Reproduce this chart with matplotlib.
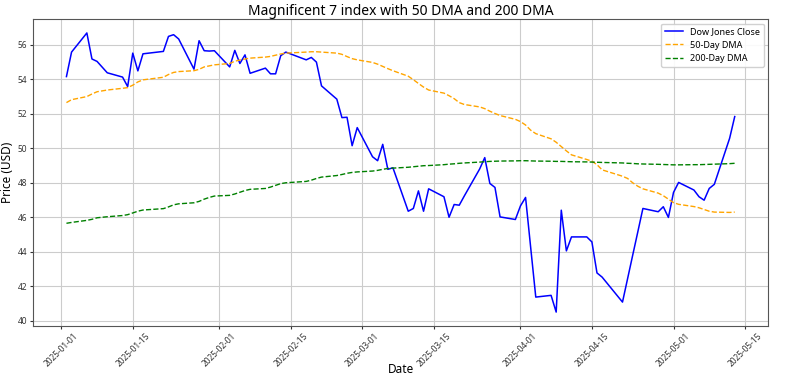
import pandas as pd
import matplotlib
matplotlib.use("Agg")
import matplotlib.pyplot as plt
import matplotlib.dates as mdates

# US trading days, Jan 2 - May 13 2025
holidays = ["2025-01-09", "2025-01-20", "2025-02-17", "2025-04-18"]
dates = pd.bdate_range("2025-01-02", "2025-05-13")
dates = dates[~dates.isin(pd.to_datetime(holidays))]

close = [
    # Jan
    54.16, 55.58, 56.69, 55.18, 55.04, 54.38, 54.13, 53.58, 55.52, 54.49,
    55.48, 55.62, 56.49, 56.59, 56.34, 54.59, 56.24, 55.66, 55.64, 55.66,
    # Feb
    54.72, 55.68, 54.92, 55.42, 54.35, 54.65, 54.32, 54.32, 55.37, 55.58,
    55.13, 55.27, 55.00, 53.62, 52.85, 51.78, 51.80, 50.15, 51.20,
    # Mar
    49.51, 49.28, 50.23, 48.78, 48.87, 46.35, 46.51, 47.53, 46.35, 47.65,
    47.19, 46.00, 46.74, 46.70, 47.24, 48.80, 49.46, 47.96, 47.73, 46.02, 45.87,
    # Apr
    46.66, 47.15, 44.25, 41.37, 41.47, 40.50, 46.41, 44.05, 44.86, 44.86,
    44.57, 42.77, 42.53, 41.08, 42.44, 43.80, 45.15, 46.51, 46.32, 46.61, 45.99,
    # May
    47.44, 48.02, 47.58, 47.19, 46.99, 47.67, 47.91, 50.58, 51.84,
]

dma50 = [
    52.65, 52.82, 53.00, 53.15, 53.28, 53.38, 53.48, 53.52, 53.66, 53.85,
    53.97, 54.12, 54.28, 54.40, 54.45, 54.50, 54.58, 54.72, 54.78, 54.84,
    54.92, 55.05, 55.12, 55.18, 55.23, 55.29, 55.33, 55.40, 55.47, 55.52,
    55.58, 55.60, 55.60, 55.58, 55.52, 55.45, 55.32, 55.20, 55.13,
    54.98, 54.88, 54.75, 54.62, 54.50, 54.18, 53.98, 53.76, 53.55, 53.38,
    53.20, 53.05, 52.88, 52.65, 52.54, 52.40, 52.30, 52.15, 52.02, 51.90, 51.68,
    51.55, 51.35, 51.05, 50.85, 50.55, 50.35, 50.10, 49.85, 49.62, 49.35,
    49.25, 49.05, 48.75, 48.38, 48.25, 48.00, 47.80, 47.65, 47.40, 47.25, 47.05,
    46.85, 46.75, 46.62, 46.55, 46.45, 46.35, 46.30, 46.28, 46.30,
]

dma200 = [
    45.65, 45.70, 45.82, 45.88, 45.97, 46.03, 46.10, 46.15, 46.25, 46.35,
    46.42, 46.50, 46.60, 46.72, 46.78, 46.84, 46.92, 47.05, 47.15, 47.23,
    47.27, 47.35, 47.45, 47.55, 47.62, 47.67, 47.75, 47.85, 47.95, 48.00,
    48.08, 48.15, 48.25, 48.33, 48.42, 48.48, 48.55, 48.60, 48.63,
    48.68, 48.72, 48.78, 48.83, 48.85, 48.90, 48.93, 48.96, 48.99, 49.00,
    49.05, 49.08, 49.10, 49.13, 49.15, 49.20, 49.22, 49.24, 49.25, 49.26, 49.27,
    49.28, 49.28, 49.27, 49.26, 49.25, 49.24, 49.24, 49.23, 49.22, 49.21,
    49.20, 49.19, 49.18, 49.15, 49.13, 49.12, 49.10, 49.09, 49.07, 49.06, 49.05,
    49.04, 49.04, 49.05, 49.05, 49.06, 49.07, 49.08, 49.11, 49.13,
]

plt.rcParams['font.family'] = ['Noto Sans', 'DejaVu Sans']

fig, ax = plt.subplots(figsize=(7.96, 3.80), dpi=100)
fig.subplots_adjust(left=0.0415, right=0.965, top=0.95, bottom=0.142)

ax.plot(dates, close, color='blue', lw=1.1, label='Dow Jones Close')
ax.plot(dates, dma50, color='orange', lw=1.0, ls='--', label='50-Day DMA')
ax.plot(dates, dma200, color='green', lw=1.0, ls='--', label='200-Day DMA')

ax.set_title('Magnificent 7 index with 50 DMA and 200 DMA', fontsize=10, pad=3)
ax.set_xlabel('Date', fontsize=8.5)
ax.xaxis.set_label_coords(0.5, -0.12)
ax.set_ylabel('Price (USD)', fontsize=8.5, labelpad=3)

ax.xaxis.set_major_locator(mdates.DayLocator(bymonthday=[1, 15]))
ax.xaxis.set_major_formatter(mdates.DateFormatter('%Y-%m-%d'))
ax.tick_params(axis='both', labelsize=6, length=2.5, pad=1.5, colors='#333333')
plt.setp(ax.get_xticklabels(), rotation=45)
ax.grid(True, color='#cccccc', lw=0.8)
for s in ax.spines.values():
    s.set_color('#555555')

ax.legend(loc='upper right', fontsize=6.5, framealpha=0.9)

fig.savefig('out.png', dpi=100)
